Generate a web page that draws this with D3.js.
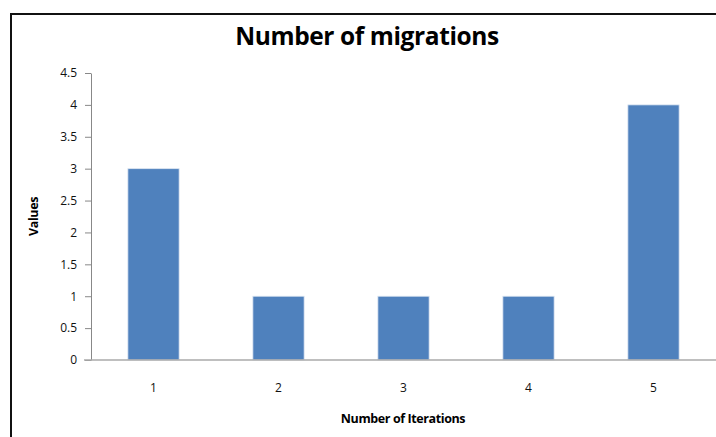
<!DOCTYPE html>
<html>
<head>
<meta charset="utf-8">
<script src="https://cdn.jsdelivr.net/npm/d3@7"></script>
<style>
  body { margin: 0; background: #fff; }
  text { font-family: "Open Sans", "Liberation Sans", sans-serif; }
</style>
</head>
<body>
<div id="chart"></div>
<script>
const iterations = ["1", "2", "3", "4", "5"];
const migrations = [3, 1, 1, 1, 4];
const yTicks = [0, 0.5, 1, 1.5, 2, 2.5, 3, 3.5, 4, 4.5];

const width = 716, height = 437;
const margin = {top: 73, right: 0, bottom: 77, left: 91};

const svg = d3.select("#chart").append("svg")
  .attr("width", width)
  .attr("height", height);

// outer frame (only top and left visible in the crop)
svg.append("path")
  .attr("d", `M11,${height} V14 H${width}`)
  .attr("fill", "none")
  .attr("stroke", "#111")
  .attr("stroke-width", 2);

const x = d3.scaleBand()
  .domain(iterations)
  .range([margin.left, width - margin.right])
  .paddingInner(0.59)
  .paddingOuter(0.295);

const y = d3.scaleLinear()
  .domain([0, 4.5])
  .range([height - margin.bottom, margin.top]);

svg.append("text")
  .attr("x", 367)
  .attr("y", 45)
  .attr("text-anchor", "middle")
  .attr("font-size", 24.5)
  .attr("font-weight", "bold")
  .attr("letter-spacing", -0.4)
  .attr("fill", "#000")
  .text("Number of migrations");

svg.selectAll(".bar")
  .data(migrations)
  .join("rect")
  .attr("class", "bar")
  .attr("x", (d, i) => x(iterations[i]))
  .attr("y", d => y(d))
  .attr("width", x.bandwidth())
  .attr("height", d => y(0) - y(d))
  .attr("fill", "#4f81bd")
  .attr("stroke", "#dce6f2")
  .attr("stroke-width", 0.8);

const yAxis = svg.append("g")
  .attr("transform", `translate(${margin.left},0)`)
  .call(d3.axisLeft(y).tickValues(yTicks).tickSize(6).tickSizeOuter(0).tickPadding(8).tickFormat(d3.format("")));
yAxis.select(".domain").attr("stroke", "#888");
yAxis.selectAll(".tick line").attr("stroke", "#888");
yAxis.selectAll(".tick text").attr("font-size", 12).attr("fill", "#111");

const xAxis = svg.append("g")
  .attr("transform", `translate(0,${y(0)})`)
  .call(d3.axisBottom(x).tickSize(0).tickPadding(23));
xAxis.select(".domain").remove();
xAxis.selectAll(".tick text").attr("font-size", 12).attr("fill", "#111");
svg.append("line")
  .attr("x1", margin.left - 7).attr("x2", width)
  .attr("y1", y(0)).attr("y2", y(0))
  .attr("stroke", "#aaa")
  .attr("stroke-width", 1.5);

svg.append("text")
  .attr("x", 403)
  .attr("y", 423)
  .attr("text-anchor", "middle")
  .attr("font-size", 12.5)
  .attr("font-weight", "bold")
  .attr("letter-spacing", -0.4)
  .text("Number of Iterations");

svg.append("text")
  .attr("transform", `translate(38,${(y(0) + y(4.5)) / 2}) rotate(-90)`)
  .attr("text-anchor", "middle")
  .attr("font-size", 12.5)
  .attr("font-weight", "bold")
  .attr("letter-spacing", -0.4)
  .text("Values");
</script>
</body>
</html>
